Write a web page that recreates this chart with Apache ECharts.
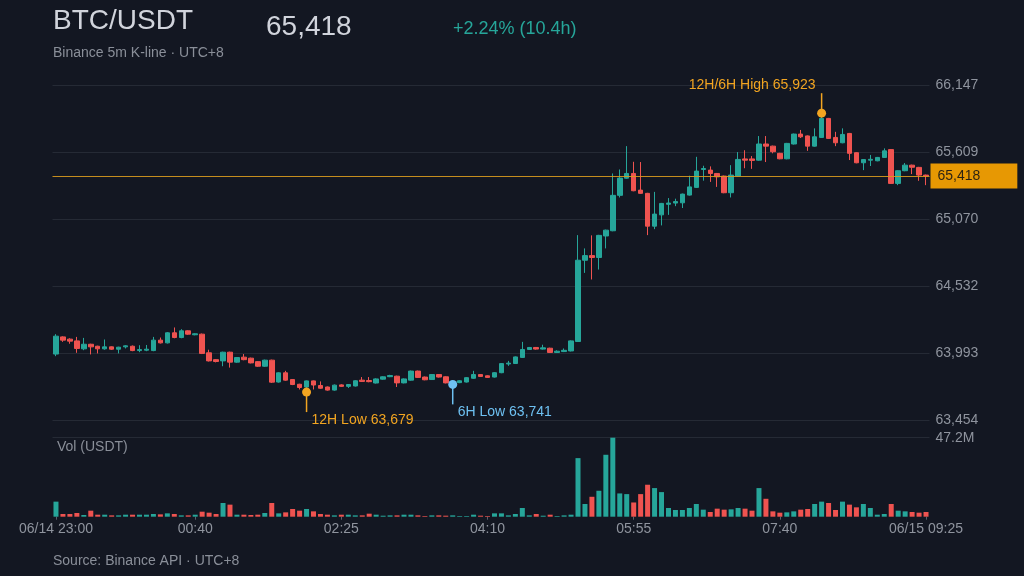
<!DOCTYPE html>
<html><head><meta charset="utf-8">
<script src="https://cdn.jsdelivr.net/npm/echarts@6/dist/echarts.min.js"></script>
<style>html,body{margin:0;padding:0;background:#131722;}#c{width:1024px;height:576px;}</style>
</head><body><div id="c"></div>
<script>
// ---- data ----
const startTime = '06/14 23:00';
const opens = [63985,64123,64105,64091,64027,64064,64048,64027,64043,64024,
64043,64048,64013,64016,64013,64097,64075,64156,64118,64172,
64140,64145,63995,63940,63930,64000,63920,63960,63952,63924,
63887,63936,63760,63834,63780,63742,63720,63769,63732,63720,
63695,63737,63725,63728,63775,63772,63752,63783,63803,63807,
63753,63775,63848,63800,63780,63820,63802,63752,63755,63760,
63790,63820,63810,63800,63835,63905,63909,63958,64022,64038,
64025,64032,63998,64005,64010,64086,64740,64777,64762,64935,
64977,65262,65400,65438,65304,65278,65014,65105,65190,65200,
65202,65264,65326,65470,65465,65438,65417,65283,65417,65555,
65555,65545,65675,65658,65600,65556,65675,65755,65740,65658,
65728,65881,65728,65685,65760,65605,65524,65545,65540,65567,
65630,65358,65460,65505,65487,65425];
const closes = [64129,64097,64089,64030,64064,64043,64027,64043,64024,64040,
64051,64013,64021,64024,64097,64075,64156,64118,64172,64145,
64148,63990,63930,63925,64000,63920,63957,63940,63914,63887,
63936,63759,63834,63775,63740,63716,63769,63736,63710,63695,
63735,63725,63740,63770,63765,63763,63785,63802,63812,63753,
63785,63848,63797,63778,63820,63800,63753,63764,63770,63795,
63820,63805,63797,63835,63908,63912,63962,64022,64038,64025,
64035,63998,64008,64015,64091,64740,64777,64762,64940,64982,
65262,65401,65438,65299,65278,65014,65111,65197,65200,65212,
65272,65330,65457,65478,65438,65411,65283,65425,65551,65545,
65543,65675,65658,65613,65556,65680,65755,65733,65658,65733,
65881,65720,65685,65752,65600,65524,65550,65552,65567,65620,
65358,65460,65505,65488,65425,65418];
const lows = [63968,64083,64068,63995,64016,63982,63990,64020,64018,63990,
64030,64008,64000,64008,64008,64070,64070,64112,64112,64140,
64136,63985,63925,63918,63887,63876,63915,63935,63910,63882,
63882,63752,63755,63770,63735,63700,63679,63700,63705,63690,
63690,63720,63712,63724,63760,63758,63748,63779,63799,63720,
63749,63771,63793,63774,63776,63796,63749,63741,63751,63756,
63786,63801,63793,63796,63831,63890,63905,63954,64018,64021,
64021,63994,63994,64001,64006,64082,64638,64585,64665,64835,
64973,65245,65396,65295,65274,64942,64990,65020,65105,65175,
65160,65260,65322,65380,65370,65330,65279,65245,65413,65480,
65475,65541,65530,65600,65552,65552,65671,65723,65620,65654,
65724,65716,65658,65681,65546,65520,65465,65498,65536,65563,
65354,65344,65456,65433,65379,65344];
const highs = [64145,64128,64112,64123,64115,64068,64052,64102,64046,64044,
64056,64054,64056,64058,64123,64118,64162,64199,64185,64176,
64152,64150,64020,63944,64004,64004,63960,63985,63956,63928,
63940,63940,63838,63850,63784,63746,63772,63772,63765,63724,
63740,63742,63744,63774,63800,63800,63790,63806,63818,63811,
63789,63852,63852,63804,63824,63824,63806,63768,63774,63799,
63850,63824,63814,63840,63912,63930,63966,64083,64042,64042,
64060,64036,64015,64030,64095,64942,64835,64940,64944,64986,
65438,65470,65658,65532,65530,65282,65290,65201,65240,65235,
65276,65420,65572,65500,65495,65442,65421,65505,65610,65625,
65578,65739,65739,65662,65604,65684,65759,65788,65744,65801,
65923,65885,65773,65801,65764,65609,65554,65587,65571,65640,
65634,65464,65522,65509,65491,65429];
// volume in millions USDT
const volumes = [9.0,1.6,1.6,2.2,1.0,3.6,1.2,1.2,0.8,0.8,
1.2,1.2,1.2,1.2,1.6,1.4,2.0,1.6,0.8,0.8,
1.2,3.0,2.4,1.6,8.2,7.2,1.2,1.2,1.0,1.2,
2.2,8.2,2.0,2.6,4.6,3.6,4.6,3.2,1.6,1.2,
0.8,1.2,1.2,0.8,0.8,1.8,1.2,0.6,0.8,0.8,
1.2,1.2,0.8,0.4,0.8,0.8,0.6,0.8,0.4,0.4,
1.2,0.6,0.4,2.0,2.0,0.8,1.6,5.2,0.8,1.6,
0.6,1.2,0.4,0.8,1.2,35.0,7.6,11.9,15.5,37.0,
47.2,13.9,13.5,8.5,13.5,19.1,17.1,14.7,5.2,4.0,
4.0,5.2,7.6,4.2,2.8,4.8,4.2,4.4,5.2,4.8,
3.6,17.1,10.7,3.2,2.4,2.6,3.2,4.2,4.6,7.6,
9.0,8.2,4.0,9.0,7.2,5.6,7.6,5.2,1.2,1.6,
7.6,3.6,3.2,2.8,2.4,2.8];
const tickIndex = [0,20,41,62,83,104,125];
const tickLabels = ['06/14 23:00','00:40','02:25','04:10','05:55','07:40','06/15 09:25'];
const priceMin = 63454.4, priceMax = 66147.4, priceStep = 538.6;
const volMax = 47.2;
const lastPrice = 65418;
const markerIdx = [110, 36, 57];
const markerPrice = [65923, 63679, 63741];
const markerText = ['12H/6H High 65,923', '12H Low 63,679', '6H Low 63,741'];
const markerKind = ['high', 'low', 'low'];

// category labels: 5-minute timestamps starting at 23:00
const categories = opens.map((_, i) => {
  const m = (23 * 60 + i * 5) % (24 * 60);
  return String(Math.floor(m / 60)).padStart(2, '0') + ':' + String(m % 60).padStart(2, '0');
});

// ---- style ----
const FONT = "'Liberation Sans', Arial, sans-serif";
const UP = '#26a69a', DOWN = '#ef5350';
const GRID_LINE = '#252a35';
const AXIS_TEXT = '#8f949e';
const markerColors = ['#f2a521', '#f2a521', '#6ec1f2'];

const fmt = v => Math.round(v).toLocaleString('en-US');
const tickMap = {};
tickIndex.forEach((k, j) => { tickMap[k] = tickLabels[j]; });

const candleData = opens.map((o, i) => [o, closes[i], lows[i], highs[i]]);
const volData = volumes.map((v, i) => ({ value: v, itemStyle: { color: closes[i] >= opens[i] ? UP : DOWN } }));

const chart = echarts.init(document.getElementById('c'), null, { renderer: 'canvas' });
chart.setOption({
  backgroundColor: '#131722',
  animation: false,
  textStyle: { fontFamily: FONT },
  grid: [
    { left: 52.5, right: 94.5, top: 85.3, height: 334.7 },
    { left: 52.5, right: 94.5, top: 437.7, height: 79 }
  ],
  xAxis: [
    { type: 'category', gridIndex: 0, data: categories, boundaryGap: true, show: false },
    { type: 'category', gridIndex: 1, data: categories, boundaryGap: true,
      axisLine: { show: false },
      axisTick: { show: true, alignWithLabel: true, interval: i => (i in tickMap), length: 3, lineStyle: { color: '#5a606c' } },
      axisLabel: { interval: i => (i in tickMap), formatter: (v, i) => tickMap[i] || '', color: AXIS_TEXT, fontSize: 14, margin: 5, fontFamily: FONT },
      splitLine: { show: false } }
  ],
  yAxis: [
    { type: 'value', gridIndex: 0, position: 'right', min: priceMin, max: priceMax, interval: priceStep,
      axisLine: { show: false }, axisTick: { show: false },
      axisLabel: { color: AXIS_TEXT, fontSize: 14, margin: 6, formatter: v => fmt(v), fontFamily: FONT },
      splitLine: { lineStyle: { color: GRID_LINE, width: 1 } } },
    { type: 'value', gridIndex: 1, position: 'right', min: 0, max: volMax, interval: volMax,
      axisLine: { show: false }, axisTick: { show: false },
      axisLabel: { color: AXIS_TEXT, fontSize: 14, margin: 6, formatter: v => v > 0 ? v.toFixed(1) + 'M' : '', fontFamily: FONT },
      splitLine: { lineStyle: { color: ['transparent', GRID_LINE], width: 1 } } }
  ],
  series: [
    { type: 'candlestick', xAxisIndex: 0, yAxisIndex: 0, data: candleData, barWidth: 5,
      itemStyle: { color: UP, color0: DOWN, borderColor: UP, borderColor0: DOWN, borderWidth: 1 },
      markLine: { symbol: ['none', 'none'], silent: true, animation: false,
        data: [{ yAxis: lastPrice }],
        lineStyle: { color: '#d99a1e', width: 1, type: 'solid', opacity: 0.9 },
        label: { show: true, position: 'end', distance: 1, formatter: () => fmt(lastPrice),
          backgroundColor: '#ffa600', color: '#151515', fontSize: 14, fontFamily: FONT,
          padding: [5, 37, 4, 7], lineHeight: 16 } } },
    { type: 'bar', xAxisIndex: 1, yAxisIndex: 1, data: volData, barWidth: 5 },
    { type: 'custom', xAxisIndex: 0, yAxisIndex: 0, clip: false, z: 10,
      data: markerIdx.map((k, j) => [k, markerPrice[j]]),
      renderItem: (params, api) => {
        const j = params.dataIndex;
        const p = api.coord([api.value(0), api.value(1)]);
        const s = markerKind[j] === 'high' ? -1 : 1;
        const c = markerColors[j];
        return { type: 'group', children: [
          { type: 'line', shape: { x1: p[0], y1: p[1], x2: p[0], y2: p[1] + s * 20 }, style: { stroke: c, lineWidth: 1.5 } },
          { type: 'circle', shape: { cx: p[0], cy: p[1], r: 4.5 }, style: { fill: c } },
          { type: 'text', x: p[0] + (s < 0 ? -6 : 5), y: p[1] + s * 28,
            style: { text: markerText[j], fill: c, font: '14px ' + FONT, align: s < 0 ? 'right' : 'left', verticalAlign: 'middle' } }
        ] };
      } }
  ],
  graphic: [
    { type: 'text', x: 53, y: 21.5, style: { text: 'BTC/USDT', fill: '#d1d4dc', font: '28px ' + FONT, verticalAlign: 'middle' } },
    { type: 'text', x: 266, y: 27, style: { text: fmt(lastPrice), fill: '#d1d4dc', font: '28px ' + FONT, verticalAlign: 'middle' } },
    { type: 'text', x: 453, y: 29.5, style: { text: '+2.24% (10.4h)', fill: UP, font: '18px ' + FONT, verticalAlign: 'middle' } },
    { type: 'text', x: 53, y: 53, style: { text: 'Binance 5m K-line · UTC+8', fill: '#8a8f99', font: '14px ' + FONT, verticalAlign: 'middle' } },
    { type: 'text', x: 57, y: 447, style: { text: 'Vol (USDT)', fill: '#8a8f99', font: '14px ' + FONT, verticalAlign: 'middle' } },
    { type: 'text', x: 53, y: 561, style: { text: 'Source: Binance API · UTC+8', fill: '#8a8f99', font: '14px ' + FONT, verticalAlign: 'middle' } }
  ]
});
</script>
</body></html>
